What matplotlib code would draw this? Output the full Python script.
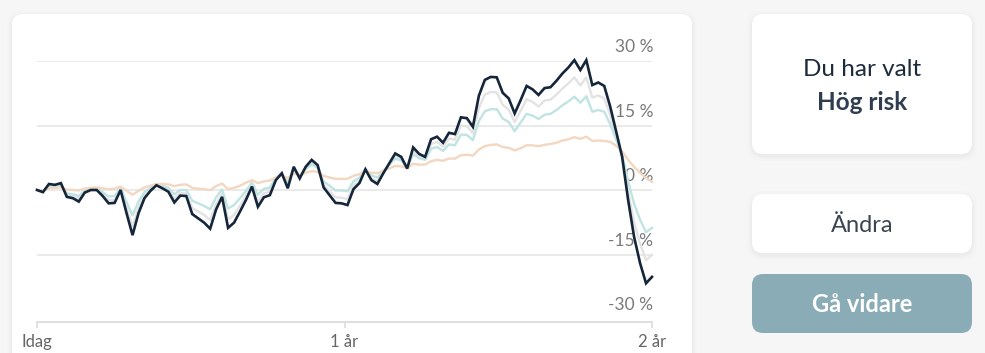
import matplotlib
matplotlib.use("Agg")
import matplotlib.pyplot as plt
from matplotlib.patches import FancyBboxPatch

plt.rcParams['font.family'] = ['Lato', 'DejaVu Sans']

# weekly development in %, two years (Idag -> 2 år)
hog = [0.0, -0.5, 1.4, 1.2, 1.6, -1.6, -1.9, -2.7, -0.6, 0.0,
       0.0, -1.4, -3.1, -3.0, 0.0, -5.4, -10.5, -5.4, -1.9, -0.2,
       1.1, 0.4, -0.4, -2.9, -1.3, -1.4, -5.6, -6.6, -7.6, -9.0,
       -4.5, -1.6, -8.8, -7.6, -5.0, -2.3, 0.8, -3.9, -1.7, -1.2,
       2.3, 3.9, 0.4, 5.4, 2.7, 5.4, 7.0, 5.8, 0.6, -1.2,
       -3.0, -3.1, -3.5, 0.2, 1.6, 4.8, 2.3, 1.4, 3.9, 6.2,
       8.5, 7.7, 5.0, 9.9, 8.4, 7.7, 11.8, 12.4, 11.0, 13.3,
       13.0, 16.9, 16.7, 14.7, 21.9, 25.6, 26.3, 26.2, 22.6, 21.3,
       17.8, 20.9, 24.2, 23.4, 22.1, 23.7, 23.9, 25.4, 27.1, 28.5,
       30.2, 27.9, 30.2, 24.4, 25.0, 24.2, 19.4, 13.6, 7.7, -2.3,
       -10.9, -17.0, -21.7, -20.2]

grey = [0.0, -0.4, 1.2, 1.0, 1.4, -1.2, -1.5, -2.1, -0.4, 0.1,
        0.15, -1.0, -2.4, -2.3, 0.2, -4.2, -8.4, -4.2, -1.3, 0.1,
        1.2, 0.6, 0.0, -2.0, -0.7, -0.8, -4.2, -5.0, -5.8, -7.0,
        -3.3, -0.9, -6.8, -5.8, -3.6, -1.4, 1.2, -2.7, -0.8, -0.4,
        2.5, 3.8, 1.0, 5.1, 2.9, 5.1, 6.4, 5.5, 1.2, -0.3,
        -1.7, -1.8, -2.1, 1.0, 2.1, 4.8, 2.7, 2.0, 4.1, 6.0,
        7.9, 7.2, 5.0, 9.1, 7.9, 7.3, 10.7, 11.2, 10.1, 12.0,
        11.7, 15.0, 14.8, 13.2, 19.1, 22.2, 22.8, 22.7, 19.8, 18.7,
        15.8, 18.4, 21.1, 20.5, 19.4, 20.8, 21.0, 22.2, 23.6, 24.8,
        26.2, 24.3, 26.2, 21.5, 22.0, 21.3, 17.4, 12.6, 7.8, -0.4,
        -7.5, -12.5, -16.3, -15.1]

teal = [0.0, -0.3, 0.9, 0.8, 1.1, -0.8, -1.0, -1.4, -0.1, 0.3,
        0.35, -0.5, -1.5, -1.4, 0.5, -2.8, -5.9, -2.7, -0.5, 0.5,
        1.4, 1.0, 0.5, -1.0, 0.0, 0.0, -2.5, -3.1, -3.7, -4.5,
        -1.7, 0.1, -4.3, -3.5, -1.9, -0.2, 1.8, -1.1, 0.3, 0.6,
        2.8, 3.8, 1.7, 4.8, 3.2, 4.9, 5.9, 5.2, 2.0, 1.0,
        -0.1, -0.1, -0.3, 2.0, 2.9, 4.9, 3.4, 2.9, 4.4, 5.9,
        7.3, 6.9, 5.2, 8.3, 7.4, 7.0, 9.6, 10.0, 9.1, 10.6,
        10.4, 12.9, 12.8, 11.6, 16.0, 18.3, 18.8, 18.8, 16.6, 15.8,
        13.7, 15.7, 17.7, 17.3, 16.5, 17.5, 17.7, 18.6, 19.7, 20.6,
        21.7, 20.3, 21.8, 18.2, 18.6, 18.2, 15.3, 11.7, 8.2, 2.0,
        -3.2, -6.9, -9.8, -8.8]

peach = [0.0, -0.1, 0.4, 0.5, 0.6, 0.1, 0.0, -0.1, 0.3, 0.5,
         0.6, 0.4, 0.2, 0.3, 0.8, -0.2, -1.1, -0.2, 0.6, 1.0,
         1.4, 1.4, 1.3, 0.9, 1.2, 1.3, 0.5, 0.3, 0.2, 0.0,
         0.9, 1.5, 0.2, 0.5, 1.0, 1.7, 2.3, 1.6, 2.0, 2.2,
         2.9, 3.3, 2.8, 3.8, 3.5, 4.0, 4.4, 4.2, 3.3, 2.9,
         2.6, 2.6, 2.6, 3.3, 3.7, 4.4, 4.0, 3.9, 4.5, 5.0,
         5.6, 5.5, 5.1, 6.1, 5.9, 5.9, 6.7, 7.0, 6.8, 7.3,
         7.3, 8.1, 8.2, 8.0, 9.4, 10.2, 10.5, 10.6, 10.0, 9.8,
         9.2, 9.7, 10.4, 10.4, 10.2, 10.5, 10.7, 11.0, 11.5, 11.8,
         12.3, 11.9, 12.4, 11.4, 11.5, 11.4, 11.2, 10.3, 9.0, 7.0,
         5.4, 4.0, 2.8, 1.9]

y_ticks = [30, 15, 0, -15, -30]
x_ticks = [0, 51.5, 103]
x_labels = ['Idag', '1 år', '2 år']

W, H = 985, 353
fig = plt.figure(figsize=(W / 100, H / 100), dpi=100, facecolor='#f6f6f6')

# background layer in pixel coordinates
bg = fig.add_axes([0, 0, 1, 1])
bg.set_xlim(0, W)
bg.set_ylim(H, 0)
bg.axis('off')


def card(x0, y0, x1, y1, color, shadow=True):
    if shadow:
        for grow, a in [(5, 0.008), (3, 0.012), (1.5, 0.018)]:
            bg.add_patch(FancyBboxPatch((x0 - grow, y0 - grow + 2), x1 - x0 + 2 * grow, y1 - y0 + 2 * grow,
                                        boxstyle="round,pad=0,rounding_size=14", fc='black', ec='none', alpha=a))
    bg.add_patch(FancyBboxPatch((x0, y0), x1 - x0, y1 - y0, boxstyle="round,pad=0,rounding_size=11",
                                fc=color, ec='none'))


card(12, 14, 692, 380, 'white')
card(752, 14, 972, 154, 'white')
card(752, 194, 972, 253, 'white')
card(752, 274, 972, 333, '#8aacb6', shadow=False)

bg.text(862, 69, 'Du har valt', ha='center', va='center', fontsize=17.5, color='#1c2a3c')
bg.text(862, 103, 'Hög risk', ha='center', va='center', fontsize=17.5, fontweight='bold', color='#2e3d50')
bg.text(862, 225, 'Ändra', ha='center', va='center', fontsize=17, color='#3b4450')
bg.text(862, 304, 'Gå vidare', ha='center', va='center', fontsize=17, fontweight='bold', color='white')

# chart
ax = fig.add_axes([37 / W, 1 - 319 / H, 615 / W, 258 / H])
ax.patch.set_visible(False)
ax.set_xlim(0, 103)
ax.set_ylim(-30, 30)

for v in y_ticks[:-1]:
    ax.axhline(v, color='#e4e4e4', lw=1.1, zorder=0)
for v in y_ticks:
    ax.text(103.2, v + 3.2, '%d %%' % v, ha='right', va='center', fontsize=12.5, color='#7a7a7a', zorder=1)

x = list(range(len(hog)))
ax.plot(x, grey, color='#e3e3e3', lw=1.7, zorder=2, clip_on=False)
ax.plot(x, teal, color='#c0e4e1', lw=1.7, zorder=3, clip_on=False)
ax.plot(x, peach, color='#f3d7c1', lw=1.7, zorder=4, clip_on=False)
ax.plot(x, hog, color='#15253a', lw=1.9, zorder=5, clip_on=False, solid_joinstyle='miter')

for s in ['top', 'right', 'left']:
    ax.spines[s].set_visible(False)
ax.spines['bottom'].set_color('#dcdcdc')
ax.spines['bottom'].set_linewidth(1.3)
ax.spines['bottom'].set_position(('outward', 2))
ax.set_yticks([])
ax.set_xticks(x_ticks)
ax.set_xticklabels(x_labels)
ax.tick_params(axis='x', length=4.5, width=1.2, color='#dcdcdc', labelcolor='#666666', labelsize=12, pad=4.5)

fig.savefig('out.png', dpi=100, facecolor=fig.get_facecolor())
